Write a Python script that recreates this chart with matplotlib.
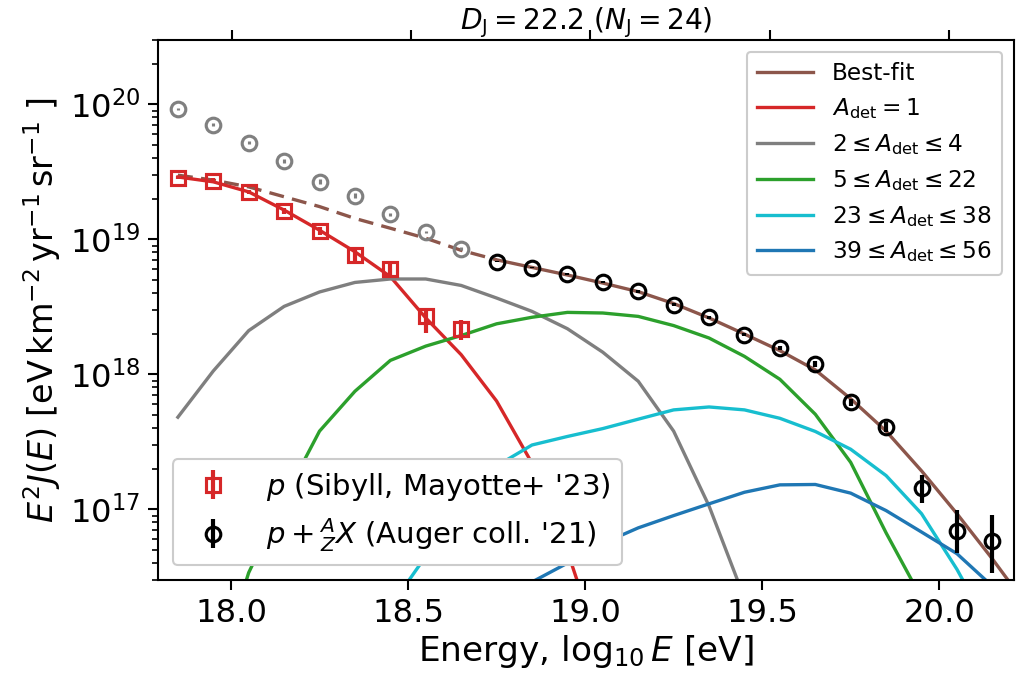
import numpy as np
import matplotlib
matplotlib.use("Agg")
import matplotlib.pyplot as plt

# ---------------- data ----------------
# Model components, evaluated at bin centres log10(E/eV)
x_model = [17.85, 17.95, 18.05, 18.15, 18.25, 18.35, 18.45, 18.55, 18.65, 18.75,
           18.85, 18.95, 19.05, 19.15, 19.25, 19.35, 19.45, 19.55, 19.65, 19.75,
           19.85, 19.95, 20.05, 20.15, 20.25]

best_fit = [2.99e19, 2.75e19, 2.45e19, 2.07e19, 1.75e19, 1.43e19, 1.21e19, 1.02e19, 8.3e18, 7.06e18,
            6.2e18, 5.45e18, 4.75e18, 4.1e18, 3.35e18, 2.62e18, 1.99e18, 1.5e18, 1.08e18, 6.6e17,
            3.8e17, 1.93e17, 9.3e16, 4.3e16, 1.9e16]

a1 = [2.9e19, 2.67e19, 2.25e19, 1.65e19, 1.17e19, 8.1e18, 5.3e18, 2.62e18, 1.4e18, 6.35e17,
      2.2e17, 4.9e16, 8e15, 1e15]

a2_4 = [4.82e17, 1.06e18, 2.11e18, 3.19e18, 4.08e18, 4.8e18, 5.09e18, 5.09e18, 4.56e18, 3.68e18,
        2.93e18, 2.18e18, 1.46e18, 8.9e17, 3.8e17, 1.06e17, 2.2e16, 2e15]

a5_22 = [5e14, 5e15, 3.4e16, 1.2e17, 3.8e17, 7.5e17, 1.27e18, 1.62e18, 1.94e18, 2.37e18,
         2.65e18, 2.88e18, 2.85e18, 2.69e18, 2.3e18, 1.86e18, 1.36e18, 9.2e17, 5.07e17, 2.23e17,
         6.7e16, 2.2e16, 2e15]

x_a23_38 = [18.45, 18.55, 18.65, 18.75, 18.85, 18.95, 19.05, 19.15, 19.25, 19.35,
            19.45, 19.55, 19.65, 19.75, 19.85, 19.95, 20.05, 20.15]
a23_38 = [1.9e16, 4.5e16, 1.0e17, 2.1e17, 3.0e17, 3.47e17, 3.97e17, 4.66e17, 5.46e17, 5.74e17,
          5.46e17, 4.73e17, 3.78e17, 2.79e17, 1.78e17, 9.3e16, 3.6e16, 1.2e16]

x_a39_56 = [18.75, 18.85, 18.95, 19.05, 19.15, 19.25, 19.35, 19.45, 19.55, 19.65,
            19.75, 19.85, 19.95, 20.05, 20.15, 20.25]
a39_56 = [1.5e16, 2.9e16, 4.0e16, 5.6e16, 7.3e16, 9.0e16, 1.1e17, 1.34e17, 1.52e17, 1.53e17,
          1.32e17, 9.8e16, 6.8e16, 4.7e16, 2.7e16, 1.2e16]

# Proton spectrum (Sibyll, Mayotte+ '23)
x_p = [17.85, 17.95, 18.05, 18.15, 18.25, 18.35, 18.45, 18.55, 18.65]
y_p = [2.86e19, 2.73e19, 2.25e19, 1.62e19, 1.15e19, 7.64e18, 6.03e18, 2.69e18, 2.18e18]
p_err_lo = [0.8e18, 1.0e18, 0.8e18, 0.9e18, 0.8e18, 0.7e18, 0.7e18, 6.5e17, 3.9e17]
p_err_hi = [0.8e18, 1.0e18, 0.8e18, 0.9e18, 0.8e18, 0.7e18, 0.7e18, 4.0e17, 3.3e17]

# All-particle spectrum (Auger coll. '21), below the fit range
x_all_low = [17.85, 17.95, 18.05, 18.15, 18.25, 18.35, 18.45, 18.55, 18.65]
y_all_low = [9.3e19, 7.08e19, 5.2e19, 3.8e19, 2.67e19, 2.1e19, 1.54e19, 1.14e19, 8.55e18]
all_low_err = [1.5e18, 1.5e18, 1.3e18, 1.3e18, 1.1e18, 0.9e18, 0.4e18, 0.2e18, 0.2e18]

# All-particle spectrum (Auger coll. '21), in the fit range
x_all = [18.75, 18.85, 18.95, 19.05, 19.15, 19.25, 19.35, 19.45, 19.55, 19.65,
         19.75, 19.85, 19.95, 20.05, 20.15]
y_all = [6.86e18, 6.19e18, 5.53e18, 4.8e18, 4.12e18, 3.29e18, 2.65e18, 1.97e18, 1.57e18, 1.2e18,
         6.2e17, 4.08e17, 1.43e17, 6.9e16, 5.8e16]
all_err_lo = [0.8e17, 0.8e17, 0.8e17, 0.8e17, 0.8e17, 0.7e17, 0.7e17, 0.6e17, 0.6e17, 0.6e17,
              0.4e17, 0.35e17, 3.2e16, 2.15e16, 2.4e16]
all_err_hi = [0.8e17, 0.8e17, 0.8e17, 0.8e17, 0.8e17, 0.7e17, 0.7e17, 0.6e17, 0.6e17, 0.6e17,
              0.4e17, 0.35e17, 3.6e16, 3.0e16, 3.3e16]

x_ticks = [18.0, 18.5, 19.0, 19.5, 20.0]
fit_start = 18.75

labels_lines = ["Best-fit", r"$A_\mathrm{det}=1$", r"$2\leq A_\mathrm{det}\leq 4$",
                r"$5\leq A_\mathrm{det}\leq 22$", r"$23\leq A_\mathrm{det}\leq 38$",
                r"$39\leq A_\mathrm{det}\leq 56$"]
label_p = r"$p$ (Sibyll, Mayotte+ '23)"
label_all = r"$p+{}^{A}_{Z}X$ (Auger coll. '21)"
title = r"$D_\mathrm{J}=22.2\ (N_\mathrm{J}=24)$"

# ---------------- plot ----------------
plt.rcParams['font.family'] = ['DejaVu Sans']
plt.rcParams['mathtext.fontset'] = 'dejavusans'

fig = plt.figure(figsize=(1017 / 150, 679 / 150), dpi=150)
ax = fig.add_axes([0.1554, 0.1458, 0.8416, 0.7953])

lw = 1.6
xm = np.array(x_model)
bf = np.array(best_fit)
dash_mask = xm <= fit_start + 1e-9
solid_mask = xm >= fit_start - 1e-9
ax.plot(xm[dash_mask], bf[dash_mask], color='tab:brown', lw=lw, dashes=(4.5, 2.5))
l_bf, = ax.plot(xm[solid_mask], bf[solid_mask], color='tab:brown', lw=lw, label=labels_lines[0])
l_a1, = ax.plot(x_model[:len(a1)], a1, color='tab:red', lw=lw, label=labels_lines[1])
l_a2, = ax.plot(x_model[:len(a2_4)], a2_4, color='tab:gray', lw=lw, label=labels_lines[2])
l_a5, = ax.plot(x_model[:len(a5_22)], a5_22, color='tab:green', lw=lw, label=labels_lines[3])
l_a23, = ax.plot(x_a23_38, a23_38, color='tab:cyan', lw=lw, label=labels_lines[4])
l_a39, = ax.plot(x_a39_56, a39_56, color='tab:blue', lw=lw, label=labels_lines[5])

ax.errorbar(x_all_low, y_all_low, yerr=all_low_err, fmt='o', ms=7, mfc='none',
            mec='gray', mew=1.5, ecolor='gray', elinewidth=1.5, zorder=3)
e_p = ax.errorbar(x_p, y_p, yerr=[p_err_lo, p_err_hi], fmt='s', ms=7, mfc='none',
                  mec='tab:red', mew=1.5, ecolor='tab:red', elinewidth=2, zorder=4,
                  label=label_p)
e_all = ax.errorbar(x_all, y_all, yerr=[all_err_lo, all_err_hi], fmt='o', ms=7, mfc='none',
                    mec='black', mew=1.5, ecolor='black', elinewidth=2, zorder=4,
                    label=label_all)

ax.set_yscale('log')
ax.set_xlim(17.794, 20.211)
ax.set_ylim(3.0e16, 3.0e20)
ax.set_xticks(x_ticks)
ax.set_xticklabels([f"{t:.1f}" for t in x_ticks])
ax.tick_params(axis='both', which='major', labelsize=15.5, length=5, width=1)
ax.tick_params(axis='y', which='minor', length=3, width=0.8)
ax.xaxis.set_minor_locator(matplotlib.ticker.NullLocator())
for s in ax.spines.values():
    s.set_linewidth(1.0)

ax.set_xlabel(r"Energy, $\log_{10}E$ [eV]", fontsize=16.5, labelpad=2)
ax.set_ylabel(r"$E^2J(E)$ [$\mathrm{eV\,km^{-2}\,yr^{-1}\,sr^{-1}}$ ]", fontsize=16, labelpad=3)

# top ticks (secondary axis, no labels)
axt = ax.twiny()
axt.set_xlim(17.794, 20.182)
axt.set_xticks(x_ticks)
axt.tick_params(axis='x', labeltop=False, length=5, width=1)
axt.xaxis.set_minor_locator(matplotlib.ticker.NullLocator())
axt.set_title(title, fontsize=13.5, pad=2)

leg1 = ax.legend(handles=[l_bf, l_a1, l_a2, l_a5, l_a23, l_a39], loc='upper right',
                 fontsize=11.2, handlelength=2.4, labelspacing=0.47, framealpha=1.0,
                 borderpad=0.45)
ax.add_artist(leg1)
ax.legend(handles=[e_p, e_all], loc='lower left', fontsize=14, framealpha=1.0,
          handlelength=2.0, labelspacing=0.45)

fig.savefig("out.png", dpi=150)
